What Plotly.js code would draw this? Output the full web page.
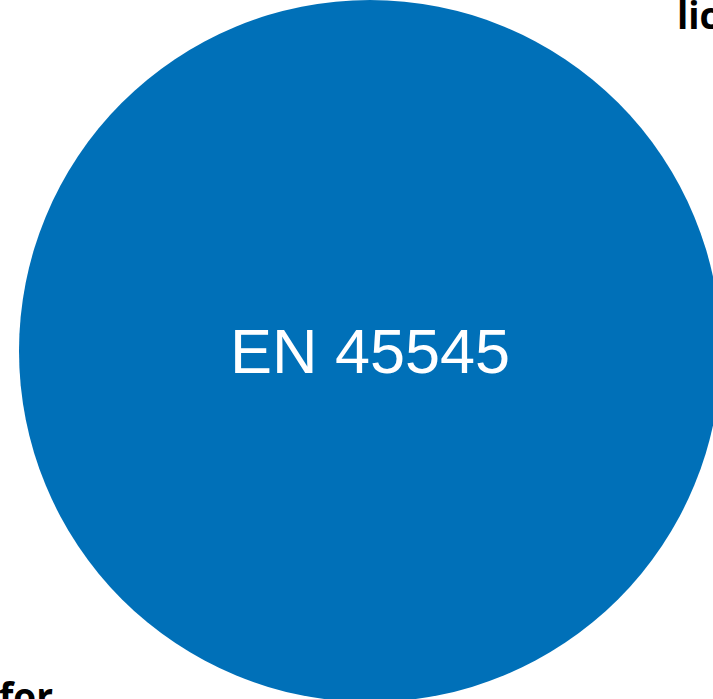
<!DOCTYPE html>
<html>
<head>
<meta charset="utf-8">
<script src="https://cdn.plot.ly/plotly-3.0.1.min.js"></script>
<style>
html,body{margin:0;padding:0;overflow:hidden;background:#fff;width:713px;height:699px;}
#chart{width:722px;height:702px;}
</style>
</head>
<body>
<div id="chart"></div>
<script>
const labels = ["EN 45545"];
const values = [1];
const colors = ["#0070B8"];
const sideLabels = ["lic", "for"];

const trace = {
  type: "pie",
  labels: labels,
  values: values,
  sort: false,
  hole: 0,
  marker: {colors: colors, line: {width: 0}},
  textinfo: "label",
  textposition: "inside",
  insidetextorientation: "horizontal",
  insidetextfont: {family: "Liberation Sans, Arial, sans-serif", size: 63, color: "#ffffff"},
  hoverinfo: "none",
  showlegend: false,
  domain: {x: [0, 1], y: [0, 1]}
};

const layout = {
  width: 722,
  height: 702,
  margin: {l: 18, r: 0, t: 0, b: 0, pad: 0},
  paper_bgcolor: "#ffffff",
  plot_bgcolor: "#ffffff",
  showlegend: false,
  annotations: [
    {text: "<b>" + sideLabels[0] + "</b>", xref: "paper", yref: "paper",
     x: (675 - 18) / 704, y: 1 - 14 / 702, xanchor: "left", yanchor: "middle",
     showarrow: false, font: {family: "Open Sans, sans-serif", size: 37, color: "#000000"}},
    {text: "<b>" + sideLabels[1] + "</b>", xref: "paper", yref: "paper",
     x: (-3 - 18) / 704, y: 1 - 695 / 702, xanchor: "left", yanchor: "middle",
     showarrow: false, font: {family: "Open Sans, sans-serif", size: 37, color: "#000000"}}
  ]
};

Plotly.newPlot("chart", [trace], layout, {displayModeBar: false, staticPlot: true});
</script>
</body>
</html>
